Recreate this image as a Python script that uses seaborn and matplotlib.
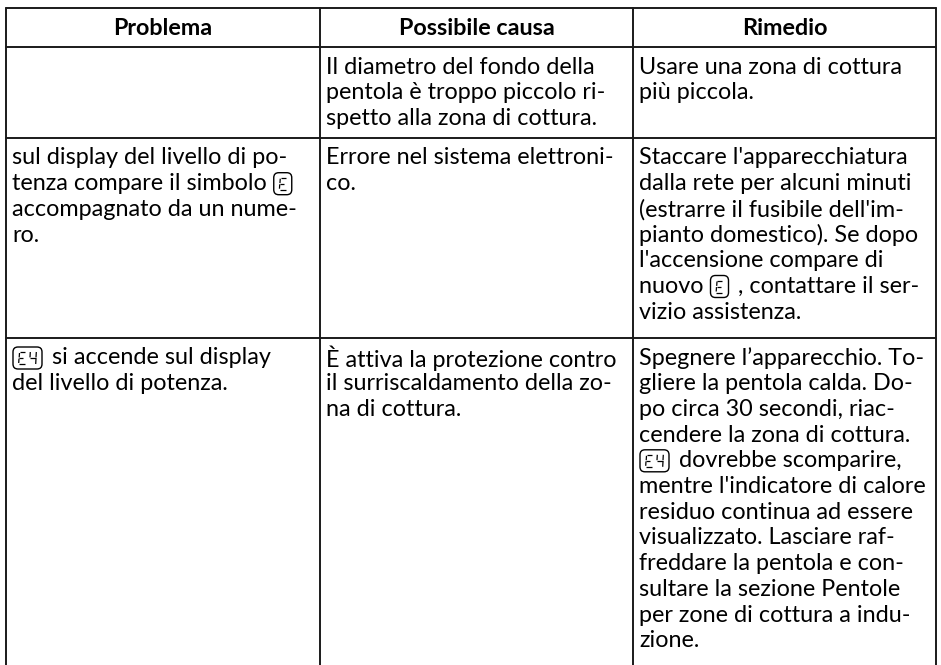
import re
import matplotlib
matplotlib.use("Agg")
import matplotlib.pyplot as plt
import seaborn as sns
from matplotlib.patches import FancyBboxPatch

sns.set_theme(style="white")
plt.rcParams["font.family"] = ["Lato", "DejaVu Sans"]

# table content ({E} / {E4} = display symbols)
headers = ["Problema", "Possibile causa", "Rimedio"]

problema = [
    [],
    ["sul display del livello di po-", "tenza compare il simbolo {E}",
     "accompagnato da un nume-", "ro."],
    ["{E4} si accende sul display", "del livello di potenza."],
]
causa = [
    ["Il diametro del fondo della", "pentola è troppo piccolo ri-",
     "spetto alla zona di cottura."],
    ["Errore nel sistema elettroni-", "co."],
    ["È attiva la protezione contro", "il surriscaldamento della zo-",
     "na di cottura."],
]
rimedio = [
    ["Usare una zona di cottura", "più piccola."],
    ["Staccare l'apparecchiatura", "dalla rete per alcuni minuti",
     "(estrarre il fusibile dell'im-", "pianto domestico). Se dopo",
     "l'accensione compare di", "nuovo {E} , contattare il ser-",
     "vizio assistenza."],
    ["Spegnere l’apparecchio. To-", "gliere la pentola calda. Do-",
     "po circa 30 secondi, riac-", "cendere la zona di cottura.",
     "{E4} dovrebbe scomparire,", "mentre l'indicatore di calore",
     "residuo continua ad essere", "visualizzato. Lasciare raf-",
     "freddare la pentola e con-", "sultare la sezione Pentole",
     "per zone di cottura a indu-", "zione."],
]
columns = [problema, causa, rimedio]

# layout (pixels)
W, H = 941, 665
col_x = [6, 320, 633, 936]
row_y = [8, 47, 138, 338]
line_h = 25.7
first_off = 20
pad = 6

fig = plt.figure(figsize=(W / 100, H / 100), dpi=100)
ax = fig.add_axes([0, 0, 1, 1])
ax.set_xlim(0, W)
ax.set_ylim(H, 0)
ax.axis("off")
renderer = fig.canvas.get_renderer()


def text_w(s, size, weight="normal"):
    t = ax.text(0, 0, s + "|", fontsize=size, fontweight=weight)
    w = t.get_window_extent(renderer).width
    t.remove()
    t = ax.text(0, 0, "|", fontsize=size, fontweight=weight)
    w -= t.get_window_extent(renderer).width
    t.remove()
    return w


# fit font size so reference lines keep their widths
ref_widths = [("Il diametro del fondo della", 277),
              ("mentre l'indicatore di calore", 287),
              ("Spegnere l’apparecchio. To-", 286),
              ("sul display del livello di po-", 296),
              ("È attiva la protezione contro", 292)]
fs = min(10 * w / text_w(s, 10) for s, w in ref_widths)


def draw_symbol(x, yc, code):
    bw = 20 if code == "E" else 31
    bh = 22
    ax.add_patch(FancyBboxPatch((x + 1, yc - bh / 2), bw - 2, bh,
                                boxstyle="round,pad=0,rounding_size=5",
                                fill=False, lw=1.0, ec="black"))
    gh, gw = 12, 6
    top, mid, bot = yc - gh / 2, yc, yc + gh / 2
    gx = x + 7
    seg = dict(color="black", lw=0.9, solid_capstyle="butt")
    # E
    ax.plot([gx + gw, gx + 1], [top, top], **seg)
    ax.plot([gx + 0.5, gx + 0.2], [top + 1, mid - 0.6], **seg)
    ax.plot([gx + 0.5, gx + gw - 1.5], [mid, mid], **seg)
    ax.plot([gx, gx - 0.3], [mid + 0.6, bot - 1], **seg)
    ax.plot([gx, gx + gw], [bot, bot], **seg)
    if code == "E4":
        fx = gx + 11
        ax.plot([fx + 0.3, fx], [top, mid - 0.6], **seg)
        ax.plot([fx + 0.5, fx + gw], [mid, mid], **seg)
        ax.plot([fx + gw + 0.3, fx + gw], [top, mid - 0.6], **seg)
        ax.plot([fx + gw, fx + gw - 0.3], [mid + 0.6, bot], **seg)
    return bw + 3


def draw_line(x, y, line):
    for part in re.split(r"(\{E4?\})", line):
        if not part:
            continue
        if part in ("{E}", "{E4}"):
            x += draw_symbol(x, y, part[1:-1])
        else:
            ax.text(x, y, part, fontsize=fs, va="center", ha="left",
                    color="black")
            x += text_w(part, fs)


# grid lines
lc = dict(color="#1a1a1a", lw=1.4)
for y in row_y:
    ax.plot([col_x[0], col_x[-1]], [y, y], **lc)
for x in col_x:
    ax.plot([x, x], [row_y[0], H], **lc)

# header
for c, h in enumerate(headers):
    ax.text((col_x[c] + col_x[c + 1]) / 2, (row_y[0] + row_y[1]) / 2 + 1, h,
            fontsize=fs, fontweight="bold", ha="center", va="center",
            color="black")

# body
for c, col in enumerate(columns):
    for r, cell in enumerate(col):
        top = row_y[r + 1]
        for i, line in enumerate(cell):
            draw_line(col_x[c] + pad, top + first_off + i * line_h, line)

fig.savefig("out.png", dpi=100, facecolor="white")
